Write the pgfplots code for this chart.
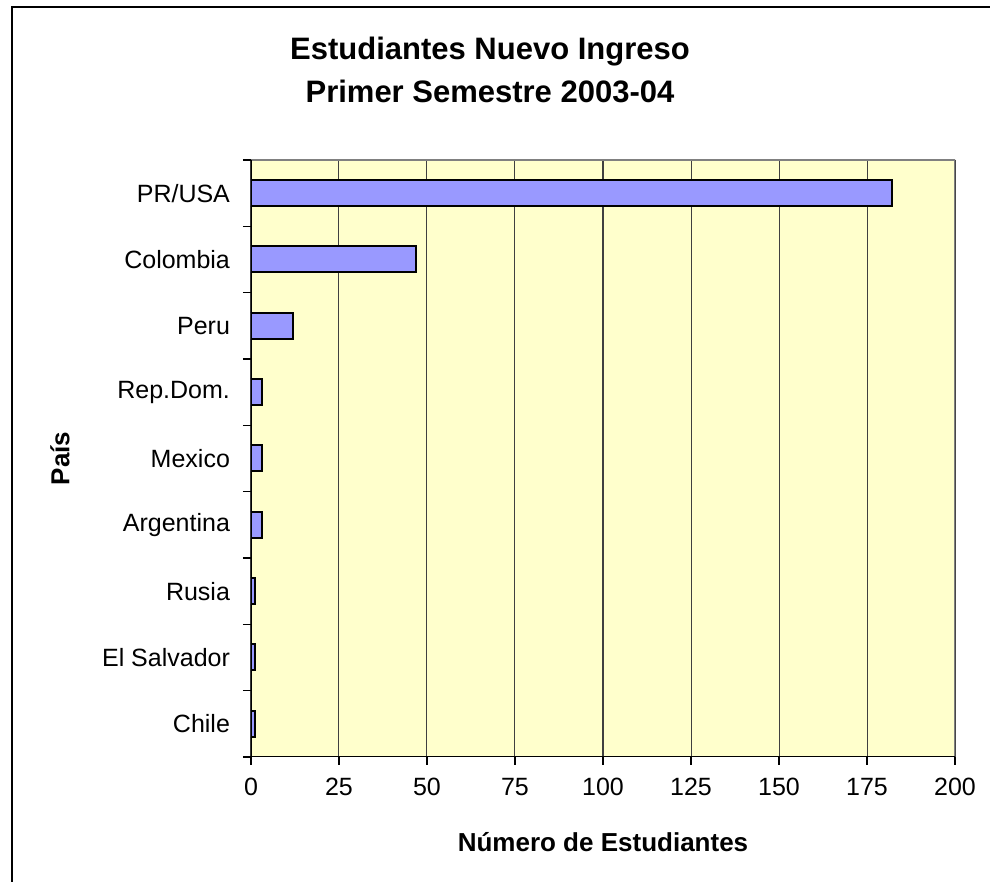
\documentclass[border=0pt]{standalone}
\usepackage{pgfplots}
\pgfplotsset{compat=1.18}
\usepackage{fontspec}
\setmainfont{Liberation Sans}
\definecolor{bgyellow}{HTML}{FFFFCC}
\definecolor{barblue}{HTML}{9999FF}
\definecolor{bordergray}{HTML}{808080}
\begin{document}
\begin{tikzpicture}
\useasboundingbox (-125.5pt,-62.5pt) rectangle (369.5pt,378.5pt);
\draw[black, line width=1pt] (-119.5pt,-90pt) -- (-119.5pt,375pt) -- (420pt,375pt);
\node[anchor=base, font=\fontsize{15.5}{18}\selectfont\bfseries] at (119.5pt,348.5pt) {Estudiantes Nuevo Ingreso};
\node[anchor=base, font=\fontsize{15.5}{18}\selectfont\bfseries] at (119.5pt,327.3pt) {Primer Semestre 2003-04};
\begin{axis}[
  at={(0,0)}, anchor=south west,
  scale only axis, width=352pt, height=298.5pt,
  xmin=0, xmax=200, ymin=-0.5, ymax=8.5,
  axis background/.style={fill=bgyellow},
  axis line style={draw=none},
  xtick={0,25,...,200},
  ytick={0,...,8},
  yticklabels={Chile,El Salvador,Rusia,Argentina,Mexico,Rep.Dom.,Peru,Colombia,PR/USA},
  minor ytick={-0.5,0.5,...,8.5},
  xtick pos=bottom, ytick pos=left,
  tick align=outside,
  major tick length=4pt, minor tick length=4pt,
  major y tick style={draw=none},
  minor y tick style={black, line width=0.75pt},
  major x tick style={black, line width=0.75pt},
  xmajorgrids,
  major grid style={black!75, line width=0.5pt},
  /pgf/number format/assume math mode=true,
  tick label style={font=\fontsize{12.5}{15}\selectfont},
  xticklabel style={yshift=-3pt},
  yticklabel style={xshift=-3pt},
  xlabel={Número de Estudiantes},
  ylabel={País},
  every axis x label/.style={at={(axis description cs:0.5,0)}, yshift=-42.5pt, anchor=center, font=\fontsize{13}{15}\selectfont\bfseries},
  every axis y label/.style={at={(axis description cs:0,0.5)}, xshift=-95.5pt, rotate=90, anchor=center, font=\fontsize{13}{15}\selectfont\bfseries},
]
\addplot[xbar, bar width=13pt, fill=barblue, draw=black, line width=1pt]
  coordinates {(1,0) (1,1) (1,2) (3,3) (3,4) (3,5) (12,6) (47,7) (182,8)};
\draw[bordergray, line width=1pt] (rel axis cs:0,1) -- (rel axis cs:1,1) -- (rel axis cs:1,0);
\draw[black, line width=0.75pt] (rel axis cs:0,1) -- (rel axis cs:0,0) -- (rel axis cs:1,0);
\end{axis}
\end{tikzpicture}
\end{document}
